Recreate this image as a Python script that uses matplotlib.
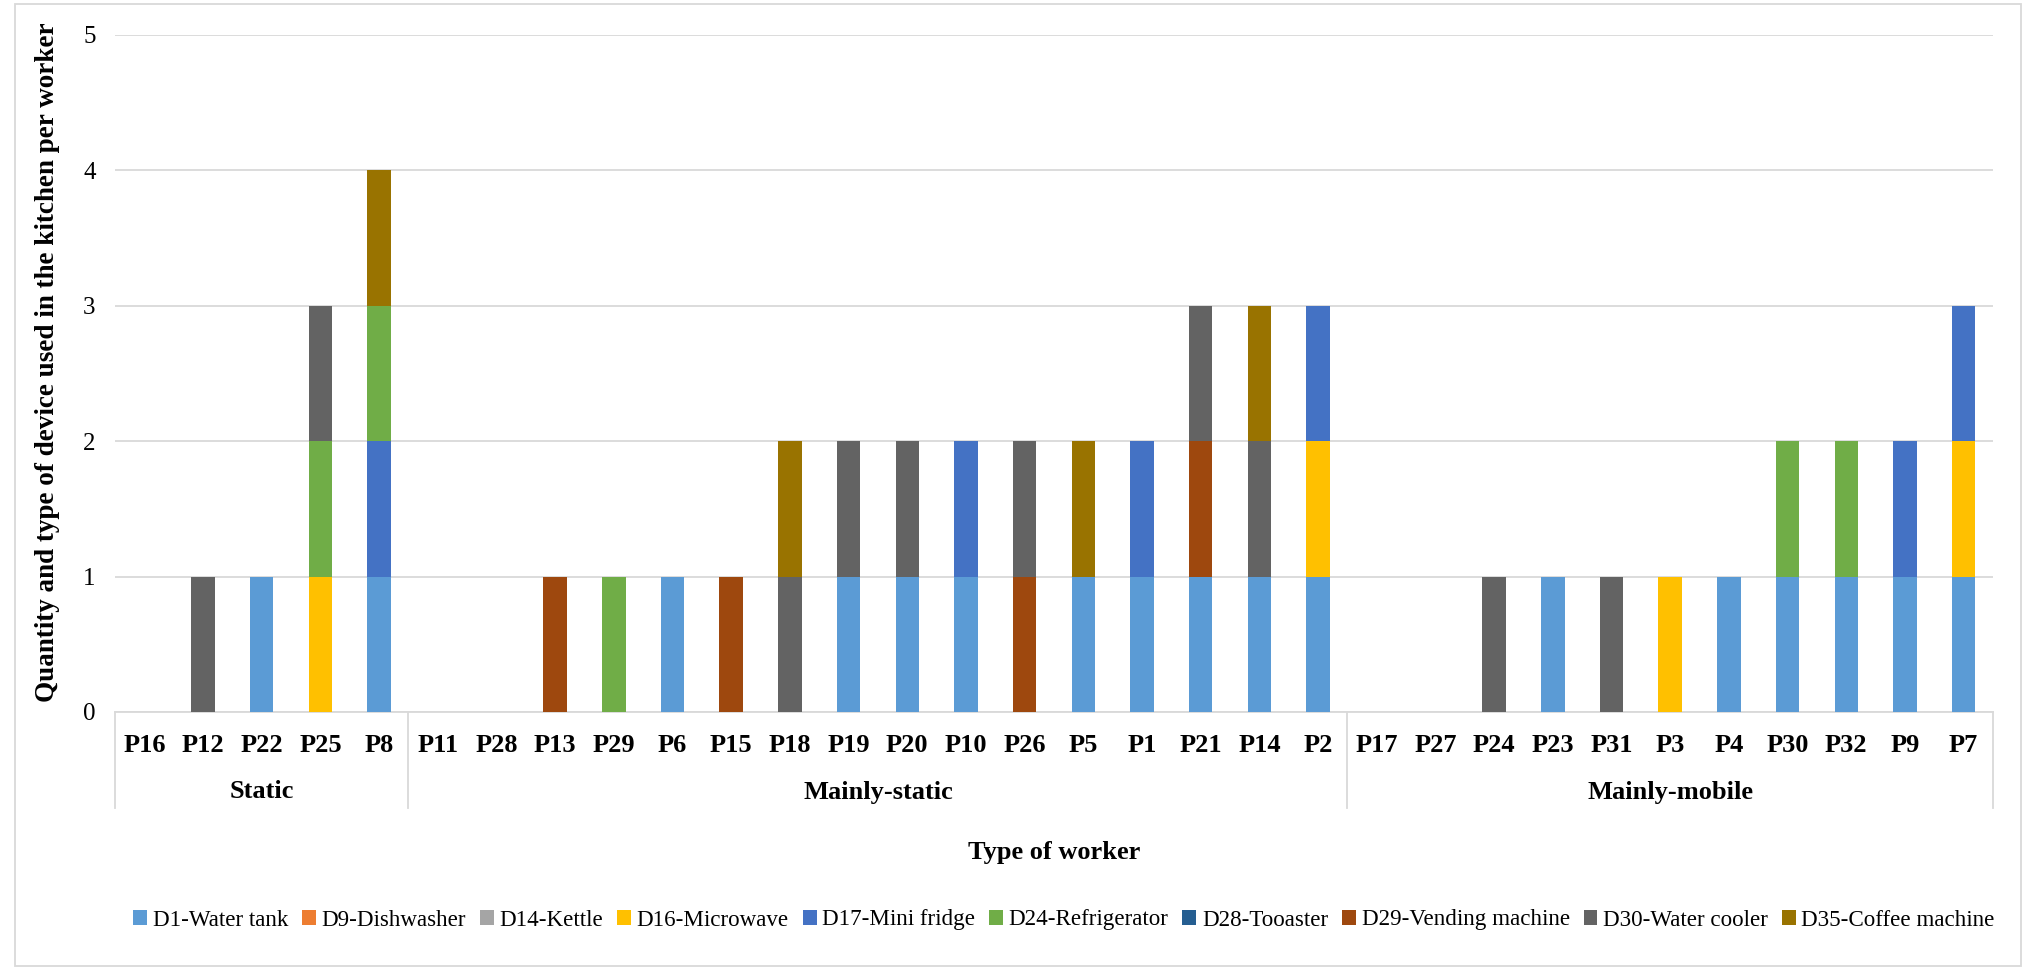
import matplotlib
matplotlib.use("Agg")
import matplotlib.pyplot as plt
import matplotlib.transforms as mtransforms
from matplotlib.lines import Line2D
from matplotlib.patches import Rectangle
import numpy as np

plt.rcParams['font.family'] = ['Liberation Serif', 'DejaVu Serif']

workers = ["P16", "P12", "P22", "P25", "P8",
           "P11", "P28", "P13", "P29", "P6", "P15", "P18", "P19", "P20", "P10",
           "P26", "P5", "P1", "P21", "P14", "P2",
           "P17", "P27", "P24", "P23", "P31", "P3", "P4", "P30", "P32", "P9", "P7"]
groups = ["Static", "Mainly-static", "Mainly-mobile"]
group_sizes = [5, 16, 11]

devices = ["D1-Water tank", "D9-Dishwasher", "D14-Kettle", "D16-Microwave",
           "D17-Mini fridge", "D24-Refrigerator", "D28-Tooaster",
           "D29-Vending machine", "D30-Water cooler", "D35-Coffee machine"]
colors = ["#5B9BD5", "#ED7D31", "#A5A5A5", "#FFC000", "#4472C4",
          "#70AD47", "#255E91", "#9E480E", "#636363", "#997300"]

# device counts per worker, one list per device (same order as workers)
d1  = [0, 0, 1, 0, 1,  0, 0, 0, 0, 1, 0, 0, 1, 1, 1, 0, 1, 1, 1, 1, 1,  0, 0, 0, 1, 0, 0, 1, 1, 1, 1, 1]
d9  = [0, 0, 0, 0, 0,  0, 0, 0, 0, 0, 0, 0, 0, 0, 0, 0, 0, 0, 0, 0, 0,  0, 0, 0, 0, 0, 0, 0, 0, 0, 0, 0]
d14 = [0, 0, 0, 0, 0,  0, 0, 0, 0, 0, 0, 0, 0, 0, 0, 0, 0, 0, 0, 0, 0,  0, 0, 0, 0, 0, 0, 0, 0, 0, 0, 0]
d16 = [0, 0, 0, 1, 0,  0, 0, 0, 0, 0, 0, 0, 0, 0, 0, 0, 0, 0, 0, 0, 1,  0, 0, 0, 0, 0, 1, 0, 0, 0, 0, 1]
d17 = [0, 0, 0, 0, 1,  0, 0, 0, 0, 0, 0, 0, 0, 0, 1, 0, 0, 1, 0, 0, 1,  0, 0, 0, 0, 0, 0, 0, 0, 0, 1, 1]
d24 = [0, 0, 0, 1, 1,  0, 0, 0, 1, 0, 0, 0, 0, 0, 0, 0, 0, 0, 0, 0, 0,  0, 0, 0, 0, 0, 0, 0, 1, 1, 0, 0]
d28 = [0, 0, 0, 0, 0,  0, 0, 0, 0, 0, 0, 0, 0, 0, 0, 0, 0, 0, 0, 0, 0,  0, 0, 0, 0, 0, 0, 0, 0, 0, 0, 0]
d29 = [0, 0, 0, 0, 0,  0, 0, 1, 0, 0, 1, 0, 0, 0, 0, 1, 0, 0, 1, 0, 0,  0, 0, 0, 0, 0, 0, 0, 0, 0, 0, 0]
d30 = [0, 1, 0, 1, 0,  0, 0, 0, 0, 0, 0, 1, 1, 1, 0, 1, 0, 0, 1, 1, 0,  0, 0, 1, 0, 1, 0, 0, 0, 0, 0, 0]
d35 = [0, 0, 0, 0, 1,  0, 0, 0, 0, 0, 0, 1, 0, 0, 0, 0, 1, 0, 0, 1, 0,  0, 0, 0, 0, 0, 0, 0, 0, 0, 0, 0]
series = [d1, d9, d14, d16, d17, d24, d28, d29, d30, d35]

W, H = 2027, 969
fig = plt.figure(figsize=(W / 100, H / 100), dpi=100)
fig.patch.set_facecolor("white")

ax_l, ax_r, ax_t, ax_b = 115, 1993, 35, 712
ax = fig.add_axes([ax_l / W, 1 - ax_b / H, (ax_r - ax_l) / W, (ax_b - ax_t) / H])

x = np.arange(len(workers))
bottom = np.zeros(len(workers))
for name, vals, col in zip(devices, series, colors):
    v = np.array(vals, dtype=float)
    ax.bar(x, v, width=0.4, bottom=bottom, color=col, label=name, zorder=3)
    bottom += v

ax.set_xlim(-0.5, len(workers) - 0.5)
ax.set_ylim(0, 5)
ax.set_yticks(range(6))
ax.yaxis.grid(True, color="#D9D9D9", linewidth=1.3, zorder=0)
ax.tick_params(axis="y", length=0, labelsize=18, pad=14)
ax.tick_params(axis="x", length=0, labelbottom=False)
for s in ["top", "right", "left"]:
    ax.spines[s].set_visible(False)
ax.spines["bottom"].set_color("#D9D9D9")
ax.spines["bottom"].set_linewidth(1.3)

fig.text(48 / W, 1 - 362 / H,
         "Quantity and type of device used in the kitchen per worker",
         rotation=90, ha="center", va="center", fontsize=19.5, fontweight="bold")

trans = mtransforms.blended_transform_factory(ax.transData, fig.transFigure)

# worker labels
for xi, w in zip(x, workers):
    ax.text(xi, 1 - 746 / H, w, transform=trans, ha="center", va="center",
            fontsize=19, fontweight="bold")

# group labels and separators
edges = np.concatenate([[0], np.cumsum(group_sizes)]) - 0.5
for e in edges:
    ax.add_line(Line2D([e, e], [1 - ax_b / H, 1 - 808 / H], transform=trans,
                       color="#D9D9D9", linewidth=1.3, clip_on=False))
for g, a, b in zip(groups, edges[:-1], edges[1:]):
    ax.text((a + b) / 2, 1 - 792 / H, g, transform=trans, ha="center",
            va="center", fontsize=19, fontweight="bold")

fig.text((ax_l + ax_r) / 2 / W, 1 - 853 / H, "Type of worker", ha="center",
         va="center", fontsize=19, fontweight="bold")

handles, labels = ax.get_legend_handles_labels()
fig.legend(handles, labels, loc="center", bbox_to_anchor=(1064 / W, 1 - 920 / H),
           ncol=10, frameon=False, fontsize=16.6, handlelength=0.6,
           handleheight=0.6, handletextpad=0.25, columnspacing=0.6)

# chart border
fig.add_artist(Rectangle((15 / W, 3 / H), 2006 / W, 962 / H, transform=fig.transFigure,
                         fill=False, edgecolor="#D9D9D9", linewidth=1.3))

fig.savefig("out.png", dpi=100)
